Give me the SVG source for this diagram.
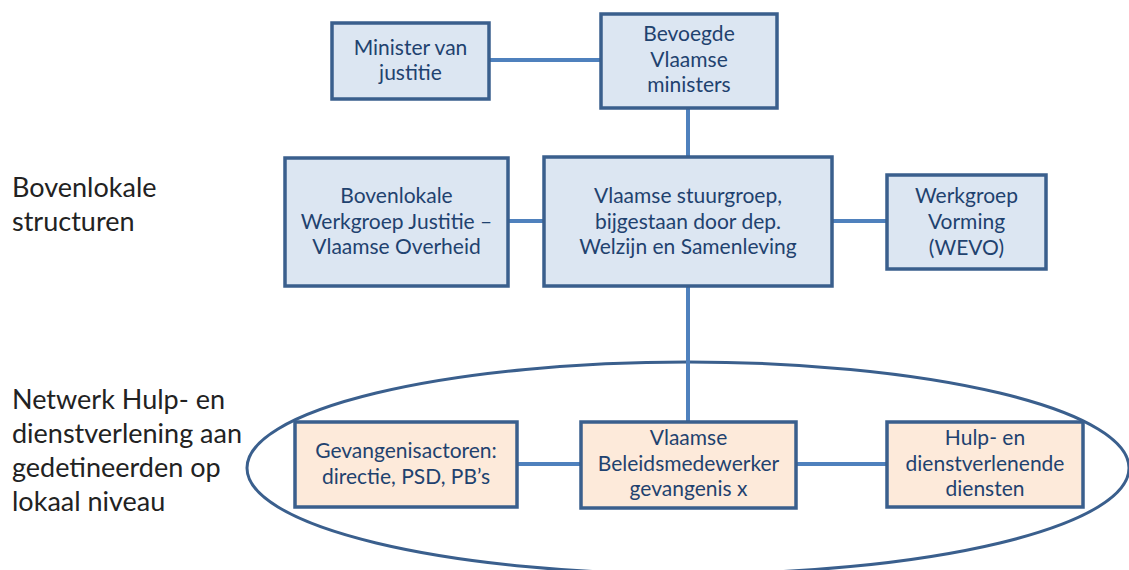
<svg xmlns="http://www.w3.org/2000/svg" width="1129" height="570" viewBox="0 0 1129 570">
<style>
.blue{fill:#DCE6F2;stroke:#3A5F8D;stroke-width:3.5}
.peach{fill:#FDEADA;stroke:#3A5F8D;stroke-width:3.5}
.t{font-family:Lato,"Liberation Sans",sans-serif;font-size:21px;fill:#1F426F;text-anchor:middle}
.lab{font-family:Lato,"Liberation Sans",sans-serif;font-size:27px;fill:#222}
.c{stroke:#4F81BD;stroke-width:4;fill:none}
</style>
<rect width="1129" height="570" fill="#fff"/>
<g id="network-ellipse">
<ellipse cx="688" cy="468" rx="441" ry="106" fill="none" stroke="#3A5F8D" stroke-width="3"/>
</g>
<g id="connectors">
<line class="c" x1="489" y1="60" x2="601" y2="60"/>
<line class="c" x1="688" y1="108" x2="688" y2="157"/>
<line class="c" x1="508" y1="221" x2="544" y2="221"/>
<line class="c" x1="832" y1="221" x2="887" y2="221"/>
<line class="c" x1="688" y1="286" x2="688" y2="422"/>
<line class="c" x1="517" y1="464" x2="581" y2="464"/>
<line class="c" x1="796" y1="464" x2="887" y2="464"/>
</g>
<g id="labels">
<text class="lab" x="12" y="197">Bovenlokale</text>
<text class="lab" x="12" y="231">structuren</text>
<text class="lab" x="12" y="409">Netwerk Hulp- en</text>
<text class="lab" x="12" y="443">dienstverlening aan</text>
<text class="lab" x="12" y="477">gedetineerden op</text>
<text class="lab" x="12" y="511">lokaal niveau</text>
</g>
<g id="minister">
<rect class="blue" x="332" y="23" width="157" height="76"/>
<text class="t" x="410.5" y="55">Minister van</text>
<text class="t" x="410.5" y="80">justitie</text>
</g>
<g id="bevoegde">
<rect class="blue" x="601" y="14" width="176" height="94"/>
<text class="t" x="689" y="41">Bevoegde</text>
<text class="t" x="689" y="67">Vlaamse</text>
<text class="t" x="689" y="92">ministers</text>
</g>
<g id="bovenlokale">
<rect class="blue" x="285" y="158" width="223" height="128"/>
<text class="t" x="396.5" y="203">Bovenlokale</text>
<text class="t" x="396.5" y="229">Werkgroep Justitie –</text>
<text class="t" x="396.5" y="254">Vlaamse Overheid</text>
</g>
<g id="stuurgroep">
<rect class="blue" x="544" y="157" width="288" height="129"/>
<text class="t" x="688" y="203">Vlaamse stuurgroep,</text>
<text class="t" x="688" y="229">bijgestaan door dep.</text>
<text class="t" x="688" y="254">Welzijn en Samenleving</text>
</g>
<g id="wevo">
<rect class="blue" x="887" y="175" width="159" height="94"/>
<text class="t" x="966.5" y="203">Werkgroep</text>
<text class="t" x="966.5" y="229">Vorming</text>
<text class="t" x="966.5" y="255">(WEVO)</text>
</g>
<g id="gevangenisactoren">
<rect class="peach" x="295" y="422" width="222" height="85"/>
<text class="t" x="406" y="458">Gevangenisactoren:</text>
<text class="t" x="406" y="484">directie, PSD, PB’s</text>
</g>
<g id="beleidsmedewerker">
<rect class="peach" x="581" y="422" width="215" height="86"/>
<text class="t" x="688.5" y="445">Vlaamse</text>
<text class="t" x="688.5" y="471">Beleidsmedewerker</text>
<text class="t" x="688.5" y="496">gevangenis x</text>
</g>
<g id="hulpdiensten">
<rect class="peach" x="887" y="422" width="196" height="85"/>
<text class="t" x="985" y="445">Hulp- en</text>
<text class="t" x="985" y="471">dienstverlenende</text>
<text class="t" x="985" y="496">diensten</text>
</g>
</svg>
